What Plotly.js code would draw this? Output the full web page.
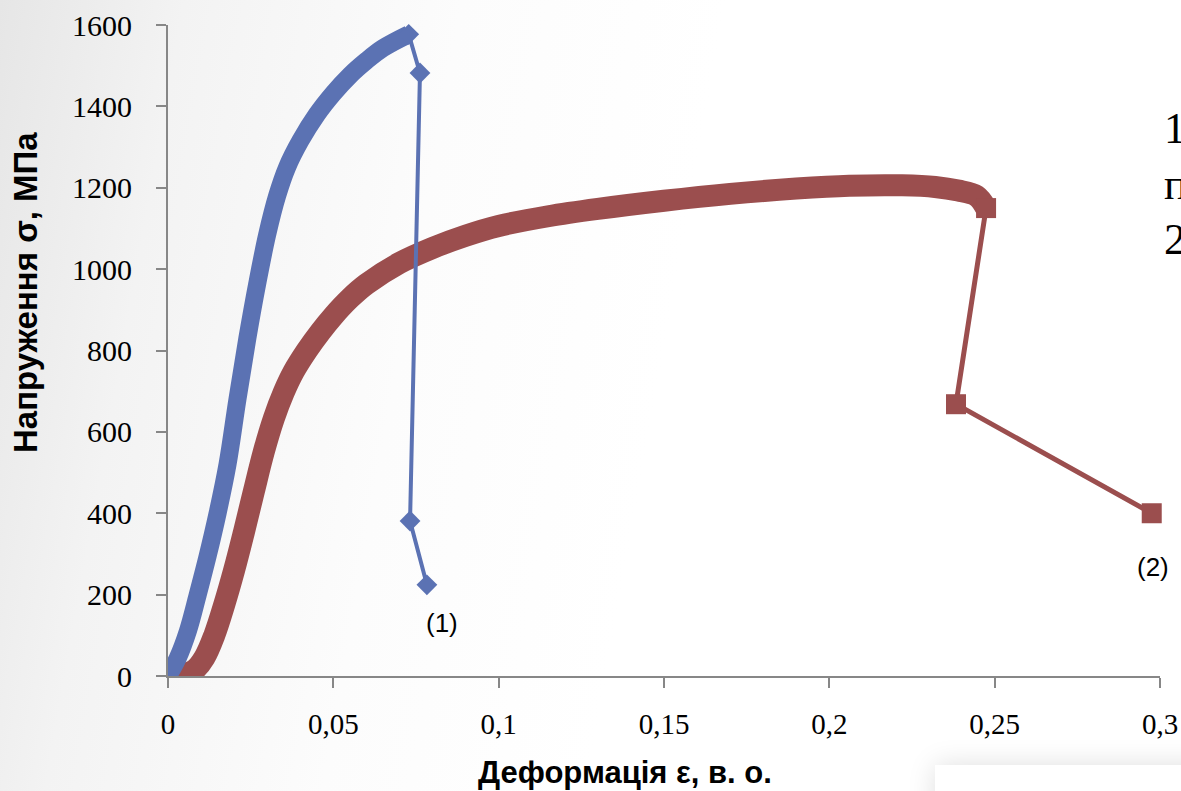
<!DOCTYPE html>
<html>
<head>
<meta charset="utf-8">
<script src="https://cdn.plot.ly/plotly-3.0.1.min.js"></script>
<style>
  html, body { margin:0; padding:0; width:1181px; height:791px; overflow:hidden; }
  body { background: linear-gradient(100deg, #e6e6e6 0%, #f3f3f3 14%, #fcfcfc 35%, #ffffff 55%, #ffffff 100%); position:relative; }
  #chart { position:absolute; left:0; top:0; width:1181px; height:791px; }
  #box { position:absolute; left:935px; top:765px; width:280px; height:60px; background:#ffffff; box-shadow: 0 0 28px rgba(0,0,0,0.13); }
</style>
</head>
<body>
<div id="chart"></div>
<div id="box"></div>
<script>
// ---- data ----
const blueCurveX = [0, 0.003, 0.006, 0.009, 0.012, 0.015, 0.018, 0.021, 0.024, 0.027, 0.030, 0.033, 0.036, 0.040, 0.045, 0.050, 0.055, 0.060, 0.065, 0.0728];
const blueCurveY = [0, 45, 110, 200, 295, 400, 520, 680, 830, 965, 1085, 1180, 1250, 1315, 1380, 1432, 1476, 1512, 1543, 1577];
const blueTailX = [0.0728, 0.0762, 0.0732, 0.0783];
const blueTailY = [1577, 1482, 381, 224];

const redCurveX = [0, 0.004, 0.008, 0.011, 0.014, 0.017, 0.020, 0.023, 0.026, 0.029, 0.032, 0.035, 0.038, 0.042, 0.046, 0.050, 0.055, 0.060, 0.070, 0.080, 0.090, 0.100, 0.115, 0.130, 0.150, 0.170, 0.190, 0.206, 0.222, 0.232, 0.239, 0.2445, 0.2474];
const redCurveY = [0, 3, 15, 45, 100, 175, 260, 355, 455, 552, 633, 697, 748, 800, 845, 885, 928, 963, 1015, 1052, 1082, 1106, 1130, 1148, 1168, 1185, 1198, 1205, 1206, 1202, 1193, 1180, 1150];
const redTailX = [0.2474, 0.2383, 0.2975];
const redTailY = [1150, 668, 400];

const xTickVals = [0, 0.05, 0.1, 0.15, 0.2, 0.25, 0.3];
const xTickText = ['0', '0,05', '0,1', '0,15', '0,2', '0,25', '0,3'];
const yTickVals = [0, 200, 400, 600, 800, 1000, 1200, 1400, 1600];

const xTitle = 'Деформація ε, в. о.';
const yTitle = 'Напруження σ, МПа';
const curveLabels = ['(1)', '(2)'];
const curveLabelX = [0.0829, 0.2978];
const curveLabelY = [130, 268];
const sideText = ['1', 'п', '2'];

const blue = '#5B72B3';
const red = '#9B4E4E';

const traces = [
  {x: redCurveX, y: redCurveY, type: 'scatter', mode: 'lines',
   line: {color: red, width: 22, shape: 'spline', smoothing: 1}, hoverinfo: 'skip'},
  {x: redTailX, y: redTailY, type: 'scatter', mode: 'lines+markers',
   line: {color: red, width: 5}, marker: {symbol: 'square', size: 20, color: red}, cliponaxis: false},
  {x: blueCurveX, y: blueCurveY, type: 'scatter', mode: 'lines',
   line: {color: blue, width: 18, shape: 'spline', smoothing: 1}, hoverinfo: 'skip'},
  {x: blueTailX, y: blueTailY, type: 'scatter', mode: 'lines+markers',
   line: {color: blue, width: 4}, marker: {symbol: 'diamond', size: 16, color: blue}, cliponaxis: false}
];

const titleFont = {family: 'Liberation Sans, Arial, sans-serif', color: '#000', weight: 'bold'};
const annotations = [
  {x: (625 - 168) / 992, y: (676 - 772) / 651, xref: 'paper', yref: 'paper', text: xTitle,
   showarrow: false, xanchor: 'center', yanchor: 'middle', font: Object.assign({size: 31}, titleFont)},
  {x: (25 - 168) / 992, y: (676 - 293) / 651, xref: 'paper', yref: 'paper', text: yTitle, textangle: -90,
   showarrow: false, xanchor: 'center', yanchor: 'middle', font: Object.assign({size: 33}, titleFont)}
];
for (let i = 0; i < curveLabels.length; i++) {
  annotations.push({x: curveLabelX[i], y: curveLabelY[i], xref: 'x', yref: 'y', text: curveLabels[i],
    showarrow: false, font: {family: 'Liberation Sans, Arial, sans-serif', size: 26, color: '#000'}});
}
const sideY = [128, 185, 240];
for (let i = 0; i < sideText.length; i++) {
  annotations.push({x: (1162 - 168) / 992, y: (676 - sideY[i]) / 651, xref: 'paper', yref: 'paper',
    xanchor: 'left', yanchor: 'middle', text: sideText[i], showarrow: false,
    font: {family: 'Liberation Serif, Times New Roman, serif', size: 44, color: '#000'}});
}

const layout = {
  width: 1181, height: 791,
  margin: {l: 168, r: 21, t: 25, b: 115},
  paper_bgcolor: 'rgba(0,0,0,0)', plot_bgcolor: 'rgba(0,0,0,0)',
  showlegend: false,
  xaxis: {
    range: [0, 0.3], tickvals: xTickVals, ticktext: xTickText,
    showgrid: false, zeroline: false, showline: true, linecolor: '#878787', linewidth: 2,
    ticks: 'outside', ticklen: 10, tickwidth: 2, tickcolor: '#878787', ticklabelstandoff: 11,
    tickfont: {family: 'Liberation Serif, Times New Roman, serif', size: 29, color: '#000'},
    layer: 'below traces', automargin: false
  },
  yaxis: {
    range: [0, 1600], tickvals: yTickVals,
    showgrid: false, zeroline: false, showline: true, linecolor: '#878787', linewidth: 2,
    ticks: 'outside', ticklen: 10, tickwidth: 2, tickcolor: '#878787', ticklabelstandoff: 18,
    tickfont: {family: 'Liberation Serif, Times New Roman, serif', size: 30, color: '#000'},
    layer: 'below traces', automargin: false
  },
  annotations: annotations
};

Plotly.newPlot('chart', traces, layout, {displayModeBar: false, staticPlot: true});
</script>
</body>
</html>
